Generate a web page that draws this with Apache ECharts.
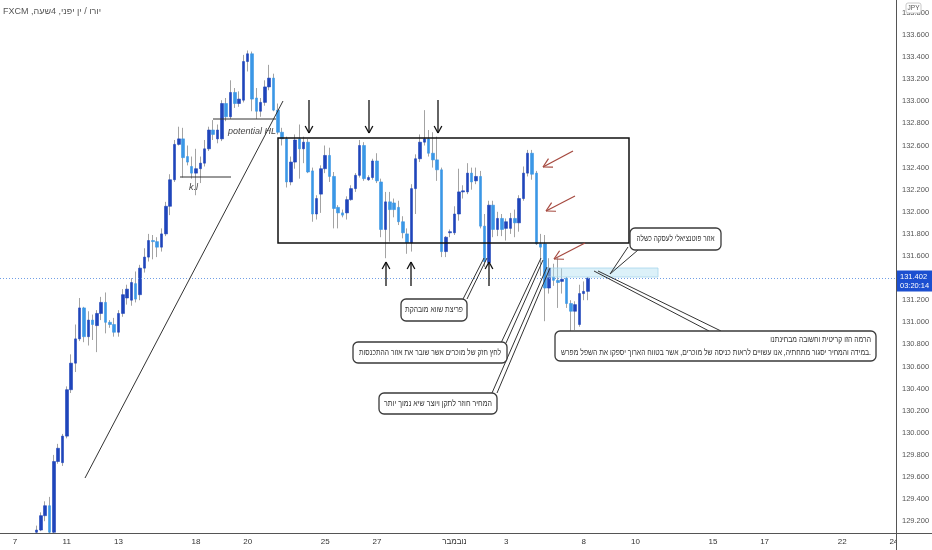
<!DOCTYPE html>
<html><head><meta charset="utf-8">
<script src="https://cdn.jsdelivr.net/npm/echarts/dist/echarts.min.js"></script>
<style>html,body{margin:0;padding:0;background:#fff}#c{width:932px;height:550px}</style>
</head><body><div id="c"></div>
<script>
// ---------- data (EUR/JPY 4H, FXCM) ----------
const firstBar = '10-07 20';
const opens = [129.10,129.12,129.25,129.34,129.10,129.74,129.73,129.97,130.39,130.63,130.85,131.13,130.87,131.02,130.97,131.08,131.18,131.00,130.98,130.91,
131.08,131.22,131.20,131.35,131.25,131.49,131.59,131.74,131.73,131.68,
131.80,132.05,132.29,132.61,132.66,132.50,132.41,132.35,132.39,132.44,
132.57,132.74,132.66,132.66,132.98,132.86,133.08,132.98,133.01,133.36,
133.43,133.03,132.91,132.99,133.13,133.21,132.92,132.72,132.66,132.27,
132.45,132.66,132.57,132.63,132.37,131.98,132.16,132.39,132.51,132.32,
132.04,131.99,131.99,132.11,132.21,132.33,132.60,132.29,132.31,132.46,
132.27,131.84,132.09,132.08,132.04,131.91,131.80,131.72,132.21,132.48,
132.63,132.66,132.53,132.47,132.38,131.64,131.81,131.81,131.98,132.18,
132.18,132.35,132.28,132.32,131.87,131.54,132.06,131.84,131.94,131.85,
131.85,131.94,131.90,132.12,132.35,132.53,132.35,131.71,131.71,131.31,
131.41,131.38,131.37,131.40,131.17,131.10,130.98,131.26,131.28];
const closes = [129.12,129.25,129.34,129.10,129.74,129.86,129.97,130.39,130.63,130.85,131.13,130.87,131.02,130.98,131.08,131.18,131.00,130.98,130.91,131.08,
131.25,131.30,131.36,131.21,131.49,131.59,131.74,131.73,131.68,131.80,
132.05,132.29,132.61,132.66,132.49,132.45,132.35,132.39,132.44,132.57,
132.74,132.70,132.74,132.98,132.86,133.08,132.98,133.02,133.36,133.43,
133.02,132.91,132.99,133.13,133.21,132.92,132.72,132.66,132.27,132.45,
132.65,132.57,132.63,132.36,131.98,132.12,132.39,132.51,132.32,132.03,
131.99,131.97,132.11,132.21,132.33,132.60,132.30,132.31,132.46,132.28,
131.84,132.09,132.02,132.02,131.91,131.81,131.72,132.21,132.48,132.63,
132.66,132.53,132.47,132.38,131.64,131.77,131.82,131.98,132.18,132.19,
132.35,132.27,132.32,131.87,131.55,132.06,131.84,131.94,131.84,131.91,
131.94,131.90,132.12,132.35,132.53,132.34,131.71,131.68,131.31,131.49,
131.38,131.36,131.39,131.17,131.10,131.16,131.26,131.28,131.40];
const highs = [129.16,129.28,129.38,129.42,129.80,129.90,129.99,130.42,130.71,130.98,131.22,131.14,131.10,131.07,131.11,131.23,131.27,131.02,131.04,131.11,
131.30,131.34,131.40,131.46,131.52,131.67,131.80,131.79,131.77,131.85,
132.09,132.34,132.65,132.77,132.76,132.60,132.50,132.57,132.50,132.65,
132.77,132.83,132.79,133.01,133.03,133.19,133.12,133.09,133.42,133.46,
133.45,133.12,133.03,133.19,133.33,133.25,132.98,132.76,132.68,132.50,
132.70,132.79,132.68,132.66,132.40,132.15,132.42,132.60,132.58,132.36,
132.06,132.02,132.14,132.24,132.35,132.65,132.63,132.33,132.48,132.53,
132.30,132.18,132.18,132.12,132.10,131.96,131.85,132.25,132.52,132.70,
132.92,132.74,132.72,132.68,132.40,131.78,131.84,132.05,132.39,132.24,
132.44,132.40,132.40,132.37,131.98,132.10,132.10,132.00,131.98,131.94,
131.99,132.02,132.15,132.41,132.56,132.56,132.37,131.80,131.79,131.58,
131.53,131.58,131.49,131.41,131.20,131.19,131.34,131.37,131.41];
const lows = [129.09,129.11,129.20,129.09,129.09,129.72,129.70,129.95,130.36,130.55,130.83,130.82,130.79,130.84,130.73,131.02,130.90,130.95,130.87,130.87,
131.05,131.16,131.15,131.18,131.20,131.45,131.55,131.57,131.59,131.64,
131.78,131.97,132.27,132.60,132.31,132.42,132.30,132.15,132.26,132.41,
132.55,132.65,132.62,132.64,132.82,132.84,132.94,132.95,132.99,133.27,
132.91,132.84,132.86,132.96,133.10,132.91,132.70,132.60,132.22,132.24,
132.39,132.30,132.44,132.35,131.91,131.93,131.99,132.35,132.27,131.85,
131.85,131.95,131.93,132.10,132.18,132.31,132.28,132.28,132.29,132.26,
131.77,131.58,131.73,131.95,131.88,131.76,131.62,131.64,131.98,132.45,
132.60,132.50,132.40,132.28,131.59,131.59,131.77,131.79,131.92,132.12,
132.16,132.20,132.25,131.85,131.50,131.52,131.77,131.78,131.78,131.74,
131.80,131.77,131.82,132.10,132.32,132.29,131.70,131.42,131.01,131.26,
131.33,131.13,131.26,131.13,130.87,130.93,130.96,131.20,131.20];
const lastPrice = 131.402;
const countdown = '03:20:14';
const dayTickDates  = ['10-07','10-11','10-13','10-18','10-20','10-25','10-27','11-01','11-03','11-08','11-10','11-15','11-17','11-22','11-24'];
const dayTickLabels = ['7','11','13','18','20','25','27','נובמבר','3','8','10','15','17','22','24'];
const yMin = 129.0, yMax = 134.0, yStep = 0.2;
const title = '\u202Bיורו / ין יפני, 4שעה, FXCM\u202C';

// ---------- categories: 4H bars on trading days ----------
function buildCategories(){
  const cats=[]; const pad=n=>String(n).padStart(2,'0');
  const fmt=(d,h)=>pad(d.getMonth()+1)+'-'+pad(d.getDate())+' '+pad(h);
  const d0=new Date(2021,9,6); [12,16,20].forEach(h=>cats.push(fmt(d0,h)));
  const d=new Date(2021,9,7), end=new Date(2021,10,24);
  while(d<end){const wd=d.getDay(); if(wd!==0&&wd!==6){for(let h=0;h<24;h+=4)cats.push(fmt(d,h));} d.setDate(d.getDate()+1);}
  cats.push(fmt(end,0)); return cats;
}
const categories = buildCategories();
const start = categories.indexOf(firstBar);
const ohlc = categories.map((c,i)=>{const k=i-start; return (k<0||k>=opens.length)?'-':[opens[k],closes[k],lows[k],highs[k]];});
const bodies = categories.map((c,i)=>{const k=i-start; if(k<0||k>=opens.length) return '-'; const o=opens[k],cl=closes[k]; return [o,cl,Math.min(o,cl),Math.max(o,cl)];});
const tickIdx = {}; dayTickDates.forEach((d,j)=>{tickIdx[categories.indexOf(d+' 00')]=dayTickLabels[j];});

// ---------- annotation drawing layer ----------
const FONT='"Liberation Sans","DejaVu Sans",sans-serif';
const mctx=document.createElement('canvas').getContext('2d');
function textW(s,font){mctx.font=font; return mctx.measureText(s).width;}
const G=[];
function ln(x1,y1,x2,y2,c,w){G.push({type:'line',silent:true,z:100,shape:{x1,y1,x2,y2},style:{stroke:c,lineWidth:w||1}});}
function arrow(tx,ty,hx,hy,c,w,len){
  ln(tx,ty,hx,hy,c,w);
  const a=Math.atan2(ty-hy,tx-hx), L=len||8;
  [0.5,-0.5].forEach(s=>ln(hx,hy,hx+L*Math.cos(a+s),hy+L*Math.sin(a+s),c,w));
}
function callout(x,y,w,h,lines,fitW,align){
  const font='8.5px '+FONT;
  const widest=Math.max(...lines.map(s=>textW(s,font)));
  const sx=Math.min(1,fitW/widest);
  G.push({type:'rect',silent:true,z:101,shape:{x,y,width:w,height:h,r:5},style:{fill:'#fff',stroke:'#3a3a3a',lineWidth:1.3}});
  G.push({type:'text',silent:true,z:102,x:align==='right'?x+w-5:x+w/2,y:y+h/2,scaleX:sx,
    style:{text:lines.join('\n'),fill:'#333',font,align:align||'center',verticalAlign:'middle',lineHeight:13}});
}
function txt(x,y,s,font,c){G.push({type:'text',silent:true,z:102,x,y,style:{text:s,fill:c||'#444',font,align:'left',verticalAlign:'middle'}});}

// consolidation rectangle
G.push({type:'rect',silent:true,z:100,shape:{x:278,y:138,width:351,height:105},style:{fill:'none',stroke:'#111',lineWidth:1.5}});
// potential zone
G.push({type:'rect',silent:true,z:99,shape:{x:547,y:268,width:111,height:9},style:{fill:'rgba(178,224,242,0.45)',stroke:'#a6d6ec',lineWidth:0.8}});
// trend line
ln(85,478,283,101,'#333',1);
// potential HL and k.l
ln(213,119,276,119,'#333',1); txt(228,131,'potential HL','italic 9px '+FONT,'#444');
ln(180,177,231,177,'#333',1); txt(189,187,'k.l','italic 9px '+FONT,'#444');
// black arrows
[309,369,438].forEach(x=>arrow(x,100,x,133,'#111',1.3,8));
[386,411,489].forEach(x=>arrow(x,286,x,262,'#111',1.3,8));
// red arrows
arrow(573,151,543,167,'#a5493f',1.2,10);
arrow(575,196,546,211,'#a5493f',1.2,10);
arrow(585,243,554,259,'#a5493f',1.2,10);
// callout pointers
ln(628,247,610,274,'#333',1); ln(638,250,610,274,'#333',1);
ln(462,301,484,258,'#333',1); ln(467,299,487,258,'#333',1);
ln(501,343,541,258,'#333',1); ln(506,343,543,260,'#333',1);
ln(492,393,547,267,'#333',1); ln(497,393,550,268,'#333',1);
ln(594,271,709,331,'#333',1); ln(598,271,721,331,'#333',1);
// callouts
callout(630,228,91,22,['אזור פוטנציאלי לעסקה כשלה'],78);
callout(401,299,66,22,['פריצת שווא מובהקת'],58);
callout(353,342,154,21,['לחץ חזק של מוכרים אשר שובר את אזור ההתכנסות'],142);
callout(379,393,118,21,['המחיר חוזר לתקן ויוצר שיא נמוך יותר'],108);
callout(555,331,321,30,['הרמה הזו קריטית וחשובה מבחינתנו','במידה והמחיר יסגור מתחתיה, אנו עשויים לראות כניסה של מוכרים, אשר בטווח הארוך יספקו את השפל מפרש.'],310,'right');
// title
txt(3,12,title,'9px '+FONT,'#555');
// frame lines of the price / time scales
G.push({type:'rect',silent:true,z:103,shape:{x:897,y:534,width:35,height:16},style:{fill:'#fff'}});
ln(0,533.5,932,533.5,'#555',1); ln(896.5,0,896.5,550,'#555',1);
// JPY tag
G.push({type:'rect',silent:true,z:104,shape:{x:906,y:3,width:15,height:10,r:2},style:{fill:'#fff',stroke:'#bbb',lineWidth:0.8}});
G.push({type:'text',silent:true,z:105,x:913.5,y:8,style:{text:'JPY',fill:'#555',font:'6.5px '+FONT,align:'center',verticalAlign:'middle'}});

const UP='#1f45bb', DOWN='#3b97e6', WICK='#a3a3a3';
const chart = echarts.init(document.getElementById('c'));
chart.setOption({
  animation:false,
  backgroundColor:'#fff',
  grid:{left:0,right:36,top:-9.2,bottom:6.7,containLabel:false,outerBoundsMode:'none'},
  xAxis:{type:'category',data:categories,boundaryGap:true,offset:-10.3,
    axisLine:{show:false},axisTick:{show:false},splitLine:{show:false},
    axisLabel:{interval:(i)=>tickIdx[i]!==undefined,formatter:(v,i)=>tickIdx[i]||'',margin:5,fontSize:8,color:'#333',fontFamily:FONT,showMaxLabel:true}},
  yAxis:{type:'value',position:'right',min:yMin,max:yMax,interval:yStep,scale:true,
    axisLine:{show:false},axisTick:{show:false},splitLine:{show:false},
    axisLabel:{margin:6,fontSize:7.5,color:'#555',fontFamily:FONT,
      formatter:v=>(v<129.1||v>133.85)?'':v.toFixed(3)}},
  series:[
    {type:'candlestick',name:'wicks',data:ohlc,barWidth:1,silent:true,
      itemStyle:{color:WICK,color0:WICK,borderColor:WICK,borderColor0:WICK,borderWidth:1}},
    {type:'candlestick',name:'EURJPY',data:bodies,barWidth:3,silent:true,
      itemStyle:{color:UP,color0:DOWN,borderColor:UP,borderColor0:DOWN,borderWidth:0.6},
      markLine:{silent:true,symbol:'none',animation:false,
        lineStyle:{type:[1,2],color:'#6f9ee6',width:1},
        label:{position:'end',distance:1,offset:[0,3],formatter:lastPrice.toFixed(3)+'\n'+countdown,color:'#fff',
          backgroundColor:'#1c4fd0',padding:[2,3,1,3],fontSize:7.5,lineHeight:9,fontFamily:FONT},
        data:[{yAxis:lastPrice}]}}
  ],
  graphic:G
});
</script></body></html>
